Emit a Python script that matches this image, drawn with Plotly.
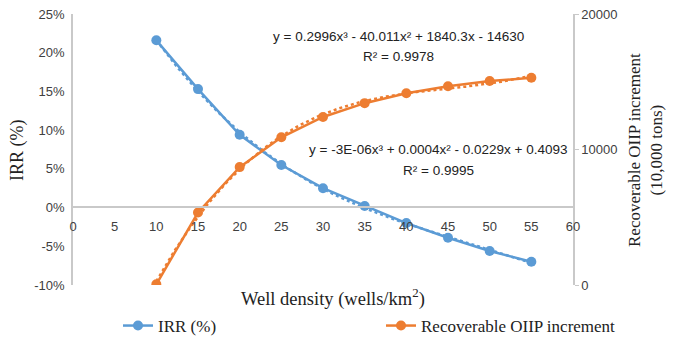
import numpy as np
import plotly.graph_objects as go

well_density = [10, 15, 20, 25, 30, 35, 40, 45, 50, 55]
irr = [0.216, 0.153, 0.094, 0.055, 0.025, 0.002, -0.020, -0.039, -0.056, -0.070]
oiip = [50, 5350, 8700, 10900, 12400, 13420, 14150, 14670, 15050, 15290]

irr_ticks = [-0.10, -0.05, 0.0, 0.05, 0.10, 0.15, 0.20, 0.25]
irr_tick_text = ["-10%", "-5%", "0%", "5%", "10%", "15%", "20%", "25%"]
oiip_ticks = [0, 10000, 20000]
oiip_tick_text = ["0", "10000", "20000"]

eq_oiip = "y = 0.2996x³ - 40.011x² + 1840.3x - 14630"
r2_oiip = "R² = 0.9978"
eq_irr = "y = -3E-06x³ + 0.0004x² - 0.0229x + 0.4093"
r2_irr = "R² = 0.9995"

BLUE = "#5B9BD5"
ORANGE = "#ED7D31"
GRID = "#C9C9C9"
SANS = "Liberation Sans"
SERIF = "Liberation Serif"
TXT = "#404040"

L, R, T, B = 73, 573, 14, 285
W, H = R - L, B - T


def px(xp):
    return (xp - L) / W


def py(yp):
    return (B - yp) / H


xf = np.linspace(min(well_density), max(well_density), 200)
irr_fit = np.polyval(np.polyfit(well_density, irr, 3), xf)
oiip_fit = np.polyval(np.polyfit(well_density, oiip, 3), xf)

fig = go.Figure()
fig.add_trace(go.Scatter(x=xf, y=irr_fit, mode="lines", showlegend=False,
                         line=dict(color=BLUE, width=2.5, dash="dot"), hoverinfo="skip"))
fig.add_trace(go.Scatter(x=xf, y=oiip_fit, mode="lines", showlegend=False, yaxis="y2",
                         line=dict(color=ORANGE, width=2.5, dash="dot"), hoverinfo="skip"))
fig.add_trace(go.Scatter(x=well_density, y=irr, mode="lines+markers", name="IRR (%)",
                         legend="legend",
                         line=dict(color=BLUE, width=2.5), marker=dict(size=10, color=BLUE)))
fig.add_trace(go.Scatter(x=well_density, y=oiip, mode="lines+markers", name="Recoverable OIIP increment",
                         yaxis="y2", legend="legend2",
                         line=dict(color=ORANGE, width=2.5), marker=dict(size=10, color=ORANGE)))

fig.update_layout(
    width=679, height=341,
    margin=dict(l=L, r=679 - R, t=T, b=341 - B, autoexpand=False),
    plot_bgcolor="white", paper_bgcolor="white",
    font=dict(family=SANS, size=13, color=TXT),
    xaxis=dict(range=[0, 60], dtick=5, tick0=0, showgrid=False, zeroline=False,
               showline=True, linecolor=GRID, linewidth=1.5, ticks="",
               anchor="free", position=py(207), ticklabelstandoff=8, automargin=False,
               tickfont=dict(family=SANS, size=13, color=TXT)),
    yaxis=dict(range=[-0.10, 0.25], tickvals=irr_ticks, ticktext=irr_tick_text, showgrid=False,
               zeroline=False, showline=True, linecolor=GRID, linewidth=1.5, ticks="",
               ticklabelstandoff=4, automargin=False,
               tickfont=dict(family=SANS, size=13, color=TXT)),
    yaxis2=dict(range=[0, 20000], tickvals=oiip_ticks, ticktext=oiip_tick_text,
                overlaying="y", side="right", showgrid=False,
                zeroline=False, showline=True, linecolor=GRID, linewidth=1.5,
                ticks="outside", ticklen=4, tickcolor=GRID, automargin=False,
                tickfont=dict(family=SANS, size=13, color=TXT)),
    legend=dict(orientation="h", x=px(118), xanchor="left", y=py(326), yanchor="middle",
                font=dict(family=SERIF, size=17, color="#222"), bgcolor="rgba(0,0,0,0)"),
    legend2=dict(orientation="h", x=px(381), xanchor="left", y=py(326), yanchor="middle",
                 font=dict(family=SERIF, size=17, color="#222"), bgcolor="rgba(0,0,0,0)"),
    showlegend=True,
)


def note(text, xp, yp, size, family, angle=0, color="#222"):
    fig.add_annotation(text=text, xref="paper", yref="paper", x=px(xp), y=py(yp),
                       xanchor="center", yanchor="middle", showarrow=False, textangle=angle,
                       font=dict(family=family, size=size, color=color))


note("Well density (wells/km<sup>2</sup>)", 333, 297, 18.5, SERIF)
note("IRR (%)", 17, 150, 18, SERIF, angle=-90)
note("Recoverable OIIP increment<br>(10,000 tons)", 645, 150, 17, SERIF, angle=-90)
note(eq_oiip, 398, 37, 13.5, SANS)
note(r2_oiip, 398, 56, 13.5, SANS)
note(eq_irr, 438, 149, 13.5, SANS)
note(r2_irr, 438, 170, 13.5, SANS)

fig.write_html("out.html", config={"displayModeBar": False},
               post_script="document.body.style.margin='0';")
